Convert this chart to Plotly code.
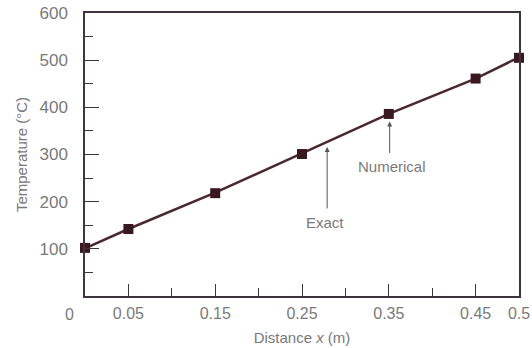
import plotly.graph_objects as go

# Data
x_numerical = [0.0, 0.05, 0.15, 0.25, 0.35, 0.45, 0.5]
t_numerical = [102, 142, 218, 301, 386, 461, 505]

x_exact = [0.0, 0.05, 0.15, 0.25, 0.35, 0.45, 0.5]
t_exact = [101, 142, 219, 302, 386, 461, 506]

x_tick_vals = [0.05, 0.15, 0.25, 0.35, 0.45, 0.5]
x_tick_text = ["0.05", "0.15", "0.25", "0.35", "0.45", "0.5"]
x_minor_ticks = [0.1, 0.2, 0.3, 0.4]
y_tick_vals = [100, 200, 300, 400, 500, 600]
y_minor_ticks = [50, 150, 250, 350, 450, 550]

axis_color = "#3f3440"
text_color = "#7a7a7a"
line_color = "#4a2830"
marker_color = "#3a1820"
font_family = "Liberation Sans, Arial, sans-serif"

fig = go.Figure()

fig.add_trace(go.Scatter(
    x=x_exact, y=t_exact, mode="lines",
    line=dict(color=line_color, width=2.5),
    name="Exact", showlegend=False, hoverinfo="skip",
))
fig.add_trace(go.Scatter(
    x=x_numerical, y=t_numerical, mode="markers",
    marker=dict(symbol="square", size=10, color=marker_color),
    name="Numerical", showlegend=False, cliponaxis=False,
))

fig.update_xaxes(
    range=[0, 0.5], showgrid=False, zeroline=False,
    showline=True, linecolor=axis_color, linewidth=1.5, mirror=True,
    tickmode="array", tickvals=x_tick_vals, ticktext=x_tick_text,
    ticks="inside", ticklen=12, tickwidth=1, tickcolor=axis_color,
    minor=dict(tickmode="array", tickvals=x_minor_ticks, ticks="inside",
               ticklen=8, tickwidth=1, tickcolor=axis_color, showgrid=False),
    tickfont=dict(family=font_family, size=16, color=text_color),
    ticklabelstandoff=2,
    automargin=False,
    title=dict(text="Distance <i>x</i> (m)", standoff=12,
               font=dict(family=font_family, size=15, color=text_color)),
)
fig.update_yaxes(
    range=[0, 600], showgrid=False, zeroline=False,
    showline=True, linecolor=axis_color, linewidth=1.5, mirror=True,
    tickmode="array", tickvals=y_tick_vals,
    ticks="inside", ticklen=14, tickwidth=1, tickcolor=axis_color,
    minor=dict(tickmode="array", tickvals=y_minor_ticks, ticks="inside",
               ticklen=8, tickwidth=1, tickcolor=axis_color, showgrid=False),
    tickfont=dict(family=font_family, size=17, color=text_color),
    ticklabelstandoff=12,
    automargin=False,
    title=dict(text="Temperature (°C)", standoff=8,
               font=dict(family=font_family, size=15, color=text_color)),
)

annotations = [
    # "0" tick label sits to the left of the axis in the reference
    dict(x=0, y=0, xref="x", yref="y", text="0", showarrow=False,
         xshift=-16, yshift=-18,
         font=dict(family=font_family, size=16, color=text_color)),
    # Numerical arrow and label
    dict(x=0.351, y=370, xref="x", yref="y", ax=0, ay=33, text="",
         showarrow=True, arrowhead=2, arrowsize=1, arrowwidth=1,
         arrowcolor="#555555"),
    dict(x=0.354, y=275, xref="x", yref="y", text="Numerical", showarrow=False,
         font=dict(family=font_family, size=15, color=text_color)),
    # Exact arrow and label
    dict(x=0.279, y=316, xref="x", yref="y", ax=0, ay=63, text="",
         showarrow=True, arrowhead=2, arrowsize=1, arrowwidth=1,
         arrowcolor="#555555"),
    dict(x=0.277, y=156, xref="x", yref="y", text="Exact", showarrow=False,
         font=dict(family=font_family, size=15, color=text_color)),
]

fig.update_layout(
    width=532, height=348,
    margin=dict(l=85, r=13, t=13, b=52),
    plot_bgcolor="white", paper_bgcolor="white",
    annotations=annotations,
    showlegend=False,
)

fig.write_html(
    "out.html",
    config={"displayModeBar": False},
    post_script="document.body.style.margin='0';document.body.style.overflow='hidden';",
)
